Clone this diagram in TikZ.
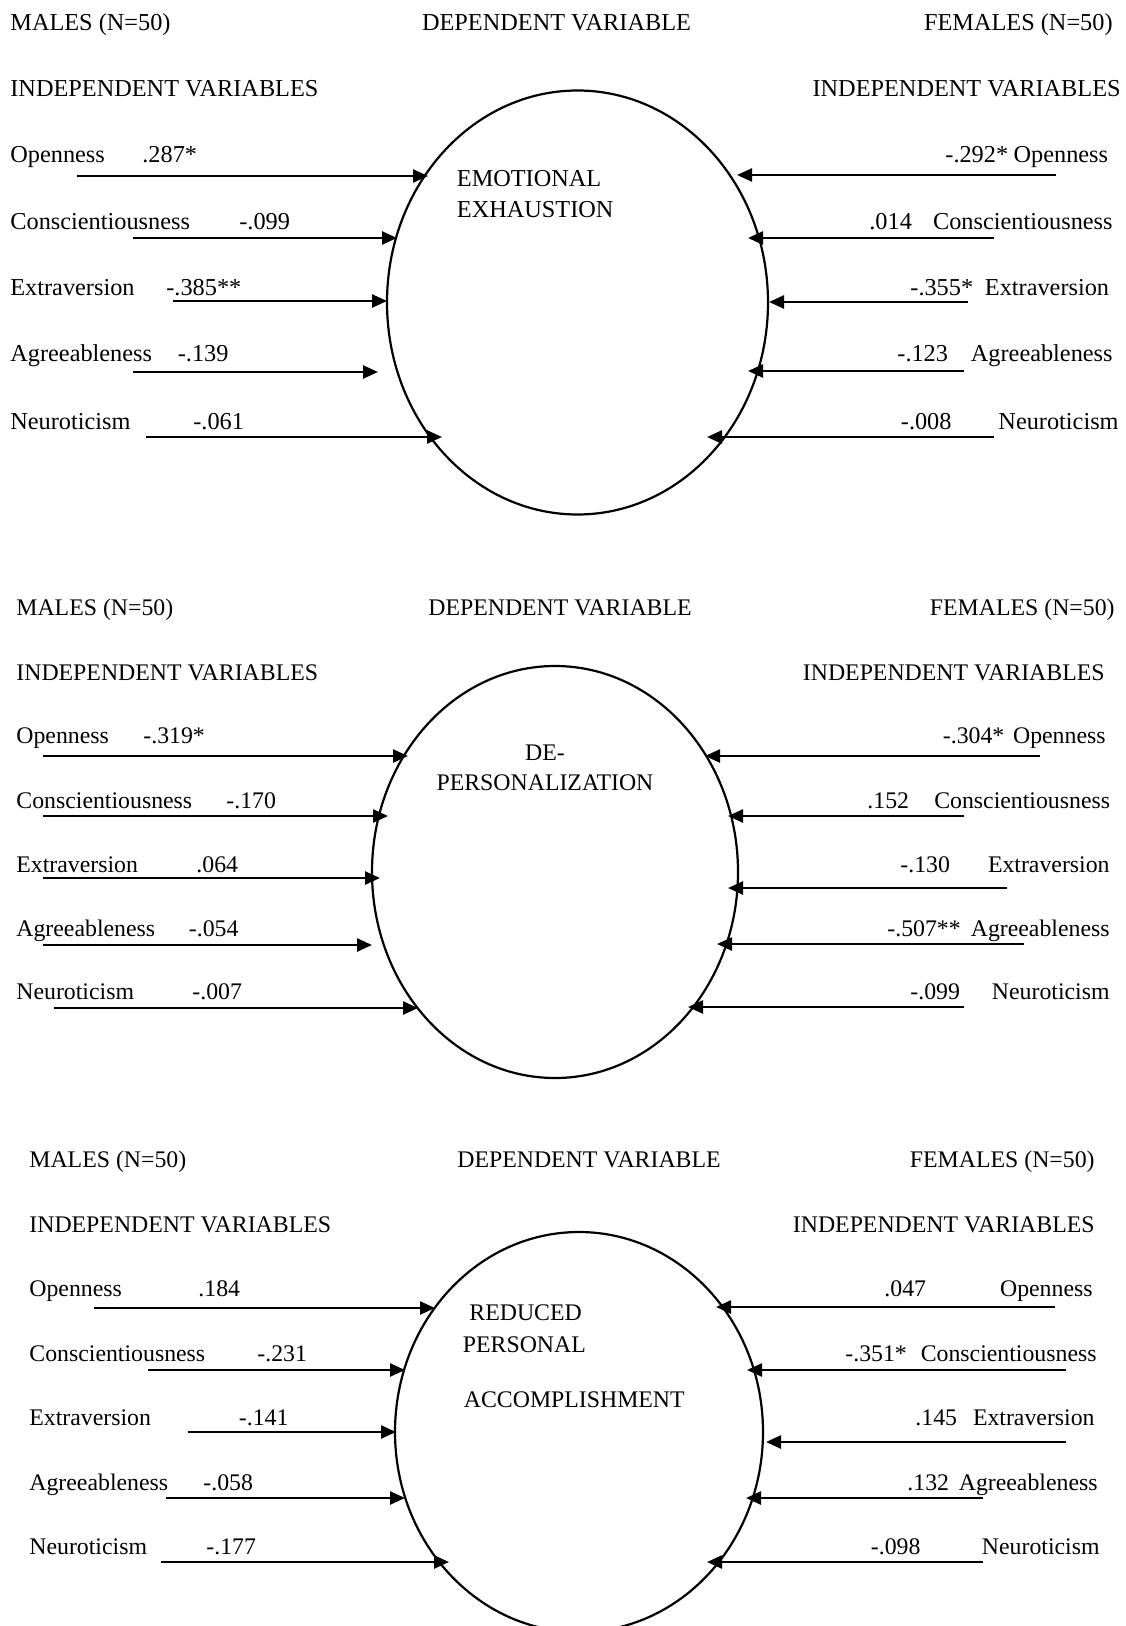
\documentclass[tikz,border=0pt]{standalone}
\usepackage{fontspec}
\setmainfont{Liberation Serif}
\usetikzlibrary{arrows.meta}
\usetikzlibrary{shapes.geometric}

\begin{document}
\begin{tikzpicture}[x=0.5pt, y=-0.5pt,
    every node/.style={inner sep=0pt, font=\fontsize{12.15}{14.5}\selectfont},
    lbl/.style={anchor=base west},
    rlbl/.style={anchor=base east},
    hdr/.style={anchor=base},
    dv/.style={draw, ellipse, line width=1.1pt},
    arr/.style={-{Triangle[length=7.5pt, width=6.5pt]}, line width=1.25pt}]
    % page is 1125 x 1626 px, one px is half a point
    \useasboundingbox (0,0) rectangle (1125,1626);
    \fill[white] (0,0) rectangle (1125,1626);

    % emotional exhaustion
    \node[lbl] (amh) at (10,31) {MALES (N=50)};
    \node[hdr] (adh) at (556.5,31) {DEPENDENT VARIABLE};
    \node[rlbl] (afh) at (1113,31) {FEMALES (N=50)};
    \node[lbl] (ami) at (10,97) {INDEPENDENT VARIABLES};
    \node[rlbl] (afi) at (1121,97) {INDEPENDENT VARIABLES};
    \node[dv, minimum width=190.5pt, minimum height=212pt] (ee) at (577.5,302.5) {};
    \node[lbl] (ee1) at (456.5,187) {EMOTIONAL};
    \node[lbl] (ee2) at (456.5,218) {EXHAUSTION};
    %% males
    \node[lbl] (amol) at (10,163) {Openness};
    \node[lbl] (amov) at (142,163) {.287*};
    \coordinate (amos) at (77,176); \coordinate (amot) at (428,176);
    \draw[arr] (amos) -- (amot);
    \node[lbl] (amcl) at (10,230) {Conscientiousness};
    \node[lbl] (amcv) at (239,230) {-.099};
    \coordinate (amcs) at (133,238); \coordinate (amct) at (397,238);
    \draw[arr] (amcs) -- (amct);
    \node[lbl] (amel) at (10,296) {Extraversion};
    \node[lbl] (amev) at (166,296) {-.385**};
    \coordinate (ames) at (173,301); \coordinate (amet) at (387,301);
    \draw[arr] (ames) -- (amet);
    \node[lbl] (amal) at (10,362) {Agreeableness};
    \node[lbl] (amav) at (177.5,362) {-.139};
    \coordinate (amas) at (133,372); \coordinate (amat) at (378,372);
    \draw[arr] (amas) -- (amat);
    \node[lbl] (amnl) at (10,429) {Neuroticism};
    \node[lbl] (amnv) at (193,429) {-.061};
    \coordinate (amns) at (146,437); \coordinate (amnt) at (442,437);
    \draw[arr] (amns) -- (amnt);
    %% females
    \node[lbl] (afov) at (945,163) {-.292*};
    \node[rlbl] (afol) at (1108.5,163) {Openness};
    \coordinate (afos) at (1055.5,175); \coordinate (afot) at (737,175);
    \draw[arr] (afos) -- (afot);
    \node[lbl] (afcv) at (869,230) {.014};
    \node[rlbl] (afcl) at (1113,230) {Conscientiousness};
    \coordinate (afcs) at (993.5,238); \coordinate (afct) at (748,238);
    \draw[arr] (afcs) -- (afct);
    \node[lbl] (afev) at (910,296) {-.355*};
    \node[rlbl] (afel) at (1109.5,296) {Extraversion};
    \coordinate (afes) at (968,302); \coordinate (afet) at (769,302);
    \draw[arr] (afes) -- (afet);
    \node[lbl] (afav) at (897,362) {-.123};
    \node[rlbl] (afal) at (1113,362) {Agreeableness};
    \coordinate (afas) at (964,371); \coordinate (afat) at (748,371);
    \draw[arr] (afas) -- (afat);
    \node[lbl] (afnv) at (900.5,429) {-.008};
    \node[rlbl] (afnl) at (1119,429) {Neuroticism};
    \coordinate (afns) at (993.5,437); \coordinate (afnt) at (707,437);
    \draw[arr] (afns) -- (afnt);

    \begin{scope}[every node/.append style={font=\fontsize{11.9}{14}\selectfont}]
    % depersonalization
    \node[lbl] (bmh) at (16,615) {MALES (N=50)};
    \node[hdr] (bdh) at (560,615) {DEPENDENT VARIABLE};
    \node[rlbl] (bfh) at (1115,615) {FEMALES (N=50)};
    \node[lbl] (bmi) at (16,680) {INDEPENDENT VARIABLES};
    \node[rlbl] (bfi) at (1105,680) {INDEPENDENT VARIABLES};
    \node[dv, minimum width=183pt, minimum height=206pt] (dp) at (555,872) {};
    \node[hdr] (dp1) at (545,760) {DE-};
    \node[hdr] (dp2) at (545,790) {PERSONALIZATION};
    %% males
    \node[lbl] (bmol) at (16,743) {Openness};
    \node[lbl] (bmov) at (143,743) {-.319*};
    \coordinate (bmos) at (43,756); \coordinate (bmot) at (408,756);
    \draw[arr] (bmos) -- (bmot);
    \node[lbl] (bmcl) at (16,808) {Conscientiousness};
    \node[lbl] (bmcv) at (226,808) {-.170};
    \coordinate (bmcs) at (43,816); \coordinate (bmct) at (388,816);
    \draw[arr] (bmcs) -- (bmct);
    \node[lbl] (bmel) at (16,872) {Extraversion};
    \node[lbl] (bmev) at (196,872) {.064};
    \coordinate (bmes) at (43,878); \coordinate (bmet) at (380,878);
    \draw[arr] (bmes) -- (bmet);
    \node[lbl] (bmal) at (16,936) {Agreeableness};
    \node[lbl] (bmav) at (188.5,936) {-.054};
    \coordinate (bmas) at (43,945); \coordinate (bmat) at (372,945);
    \draw[arr] (bmas) -- (bmat);
    \node[lbl] (bmnl) at (16,999) {Neuroticism};
    \node[lbl] (bmnv) at (192,999) {-.007};
    \coordinate (bmns) at (54,1008); \coordinate (bmnt) at (418,1008);
    \draw[arr] (bmns) -- (bmnt);
    %% females
    \node[lbl] (bfov) at (942.5,743) {-.304*};
    \node[rlbl] (bfol) at (1106,743) {Openness};
    \coordinate (bfos) at (1040,756); \coordinate (bfot) at (705,756);
    \draw[arr] (bfos) -- (bfot);
    \node[lbl] (bfcv) at (867,808) {.152};
    \node[rlbl] (bfcl) at (1110.5,808) {Conscientiousness};
    \coordinate (bfcs) at (964,816); \coordinate (bfct) at (728,816);
    \draw[arr] (bfcs) -- (bfct);
    \node[lbl] (bfev) at (900,872) {-.130};
    \node[rlbl] (bfel) at (1110,872) {Extraversion};
    \coordinate (bfes) at (1007,888); \coordinate (bfet) at (728,888);
    \draw[arr] (bfes) -- (bfet);
    \node[lbl] (bfav) at (887,936) {-.507**};
    \node[rlbl] (bfal) at (1110,936) {Agreeableness};
    \coordinate (bfas) at (1024,944); \coordinate (bfat) at (717,944);
    \draw[arr] (bfas) -- (bfat);
    \node[lbl] (bfnv) at (910,999) {-.099};
    \node[rlbl] (bfnl) at (1110,999) {Neuroticism};
    \coordinate (bfns) at (964,1007); \coordinate (bfnt) at (688,1007);
    \draw[arr] (bfns) -- (bfnt);

    % reduced personal accomplishment
    \node[lbl] (cmh) at (29,1167) {MALES (N=50)};
    \node[hdr] (cdh) at (589,1167) {DEPENDENT VARIABLE};
    \node[rlbl] (cfh) at (1095,1167) {FEMALES (N=50)};
    \node[lbl] (cmi) at (29,1232) {INDEPENDENT VARIABLES};
    \node[rlbl] (cfi) at (1095,1232) {INDEPENDENT VARIABLES};
    \node[dv, minimum width=184pt, minimum height=200pt] (rpa) at (579,1432) {};
    \node[lbl] (rpa1) at (469,1320) {REDUCED};
    \node[lbl] (rpa2) at (462.5,1352) {PERSONAL};
    \node[lbl] (rpa3) at (463.5,1407) {ACCOMPLISHMENT};
    %% males
    \node[lbl] (cmol) at (29,1296) {Openness};
    \node[lbl] (cmov) at (198,1296) {.184};
    \coordinate (cmos) at (93.5,1308); \coordinate (cmot) at (435,1308);
    \draw[arr] (cmos) -- (cmot);
    \node[lbl] (cmcl) at (29,1361) {Conscientiousness};
    \node[lbl] (cmcv) at (257,1361) {-.231};
    \coordinate (cmcs) at (148,1370); \coordinate (cmct) at (405,1370);
    \draw[arr] (cmcs) -- (cmct);
    \node[lbl] (cmel) at (29,1425) {Extraversion};
    \node[lbl] (cmev) at (238.5,1425) {-.141};
    \coordinate (cmes) at (187.5,1432); \coordinate (cmet) at (396,1432);
    \draw[arr] (cmes) -- (cmet);
    \node[lbl] (cmal) at (29,1490) {Agreeableness};
    \node[lbl] (cmav) at (203,1490) {-.058};
    \coordinate (cmas) at (166,1498); \coordinate (cmat) at (405,1498);
    \draw[arr] (cmas) -- (cmat);
    \node[lbl] (cmnl) at (29,1554) {Neuroticism};
    \node[lbl] (cmnv) at (206,1554) {-.177};
    \coordinate (cmns) at (161,1562); \coordinate (cmnt) at (449,1562);
    \draw[arr] (cmns) -- (cmnt);
    %% females
    \node[lbl] (cfov) at (884,1296) {.047};
    \node[rlbl] (cfol) at (1093,1296) {Openness};
    \coordinate (cfos) at (1055,1307); \coordinate (cfot) at (716,1307);
    \draw[arr] (cfos) -- (cfot);
    \node[lbl] (cfcv) at (845,1361) {-.351*};
    \node[rlbl] (cfcl) at (1097,1361) {Conscientiousness};
    \coordinate (cfcs) at (1065.5,1370); \coordinate (cfct) at (747,1370);
    \draw[arr] (cfcs) -- (cfct);
    \node[lbl] (cfev) at (915,1425) {.145};
    \node[rlbl] (cfel) at (1095,1425) {Extraversion};
    \coordinate (cfes) at (1065.5,1442); \coordinate (cfet) at (766,1442);
    \draw[arr] (cfes) -- (cfet);
    \node[lbl] (cfav) at (907,1490) {.132};
    \node[rlbl] (cfal) at (1098,1490) {Agreeableness};
    \coordinate (cfas) at (983,1498); \coordinate (cfat) at (746,1498);
    \draw[arr] (cfas) -- (cfat);
    \node[lbl] (cfnv) at (870.5,1554) {-.098};
    \node[rlbl] (cfnl) at (1100,1554) {Neuroticism};
    \coordinate (cfns) at (983,1562); \coordinate (cfnt) at (707,1562);
    \draw[arr] (cfns) -- (cfnt);
    \end{scope}
\end{tikzpicture}
\end{document}
